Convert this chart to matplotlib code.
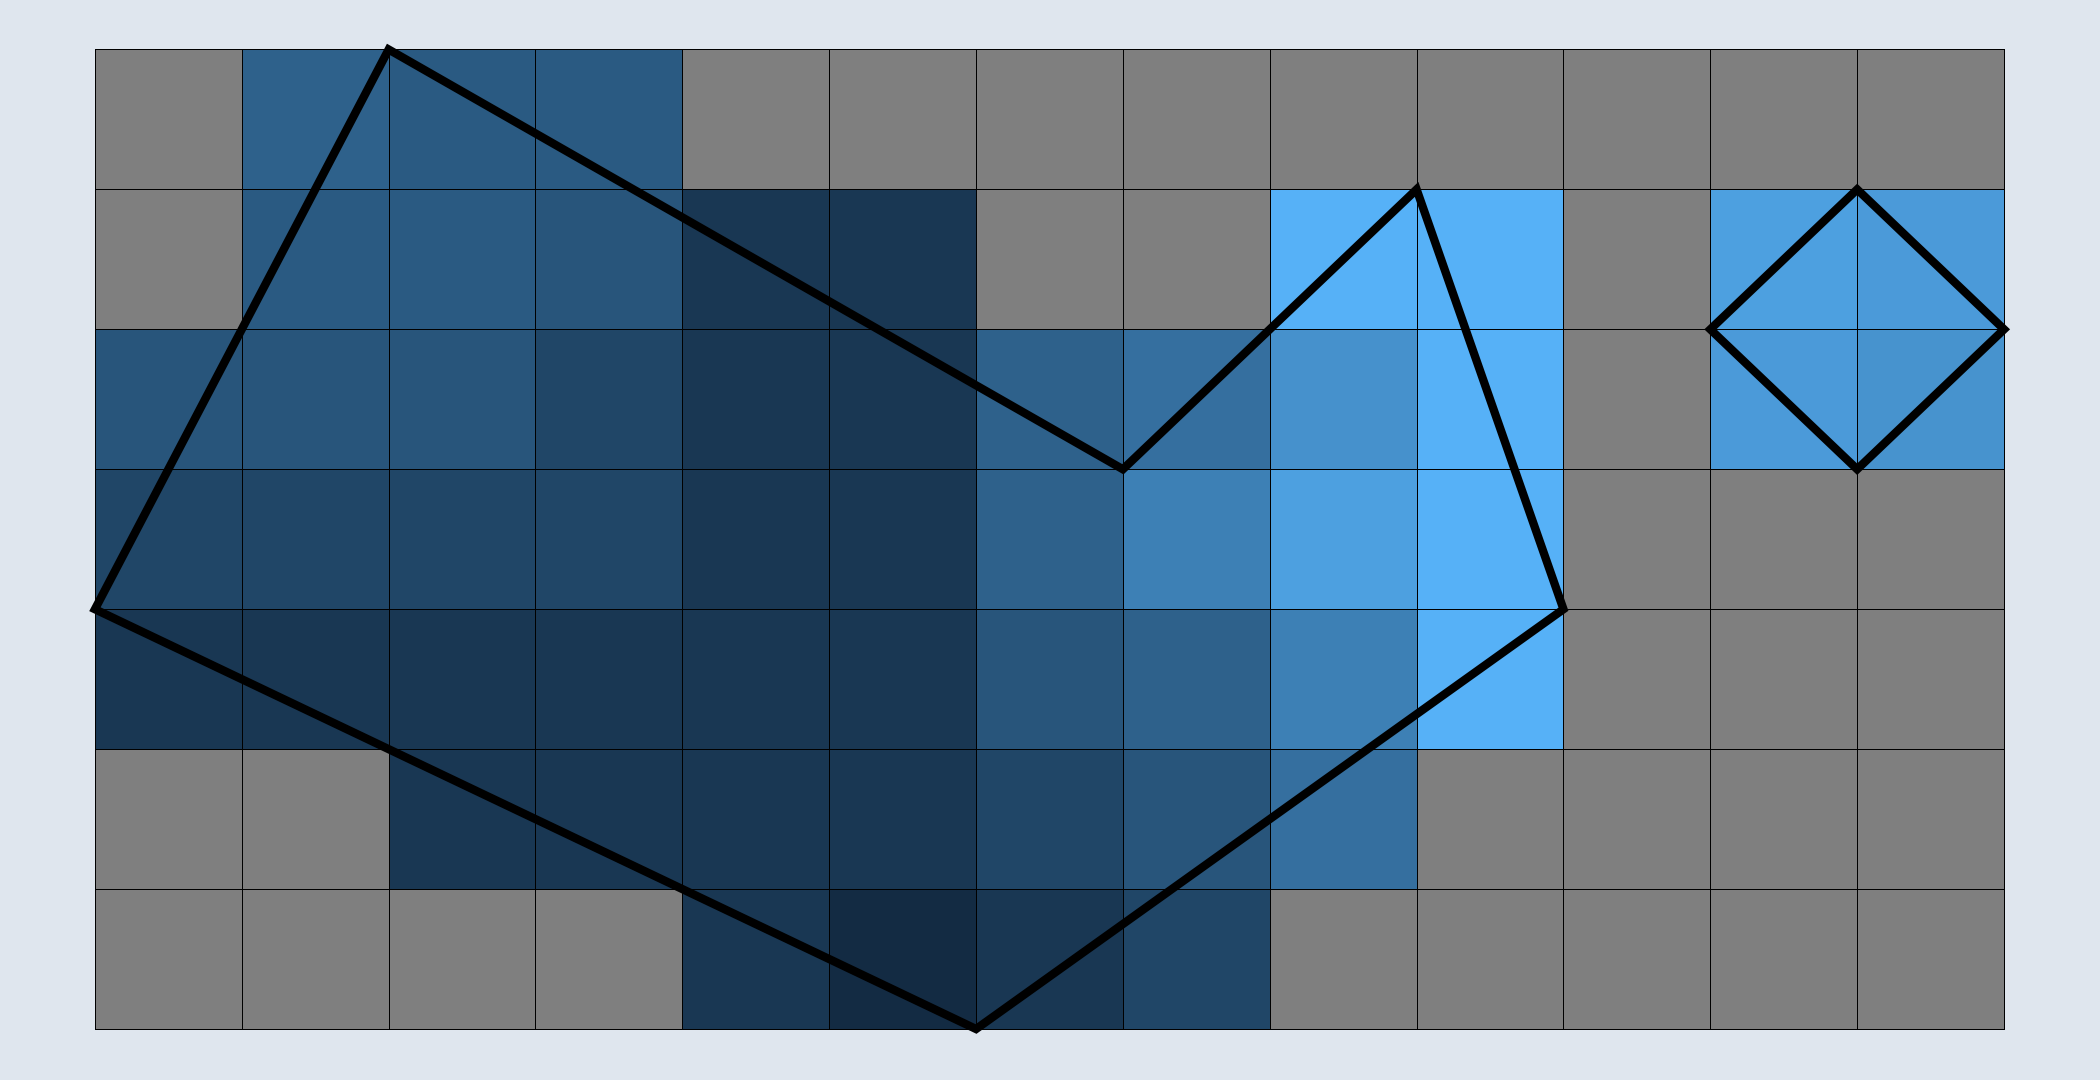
import numpy as np
import matplotlib.pyplot as plt
from matplotlib.colors import LinearSegmentedColormap

nan = np.nan

# cell values, row 0 at the top, 13 columns
values = [
    [nan, .40, .35, .35, nan, nan, nan, nan, nan, nan, nan, nan, nan],
    [nan, .35, .35, .31, .09, .09, nan, nan, 1.0, 1.0, nan, .87, .83],
    [.31, .31, .31, .20, .09, .09, .40, .51, .76, 1.0, nan, .83, .77],
    [.20, .20, .20, .20, .09, .09, .40, .63, .87, 1.0, nan, nan, nan],
    [.09, .09, .09, .09, .09, .09, .31, .40, .63, 1.0, nan, nan, nan],
    [nan, nan, .09, .09, .09, .09, .20, .31, .51, nan, nan, nan, nan],
    [nan, nan, nan, nan, .09, 0.0, .09, .20, nan, nan, nan, nan, nan],
]

# outline polygons (column, row) in grid units
big_x = [2, 0, 6, 10, 9, 7]
big_y = [0, 4, 7, 4, 1, 3]
diamond_x = [12, 11, 12, 13]
diamond_y = [1, 2, 3, 2]

cmap = LinearSegmentedColormap.from_list("gg", ["#132B43", "#56B1F7"])
cmap.set_bad("#7f7f7f")

fig = plt.figure(figsize=(21, 10.8), dpi=100, facecolor="#dfe6ee")
ax = fig.add_axes([0.0452, 0.0472, 0.9091, 0.9070])

data = np.ma.masked_invalid(np.array(values))
mesh = ax.pcolormesh(np.arange(14), np.arange(8), data, cmap=cmap, vmin=0, vmax=1,
                     edgecolors="black", linewidth=0.6)
mesh.set_clip_on(False)

for xs, ys in [(big_x, big_y), (diamond_x, diamond_y)]:
    ax.fill(xs, ys, facecolor="none", edgecolor="black", linewidth=6,
            clip_on=False)

ax.set_xlim(0, 13)
ax.set_ylim(7, 0)
ax.axis("off")

fig.savefig("out.png", dpi=100, facecolor=fig.get_facecolor())
